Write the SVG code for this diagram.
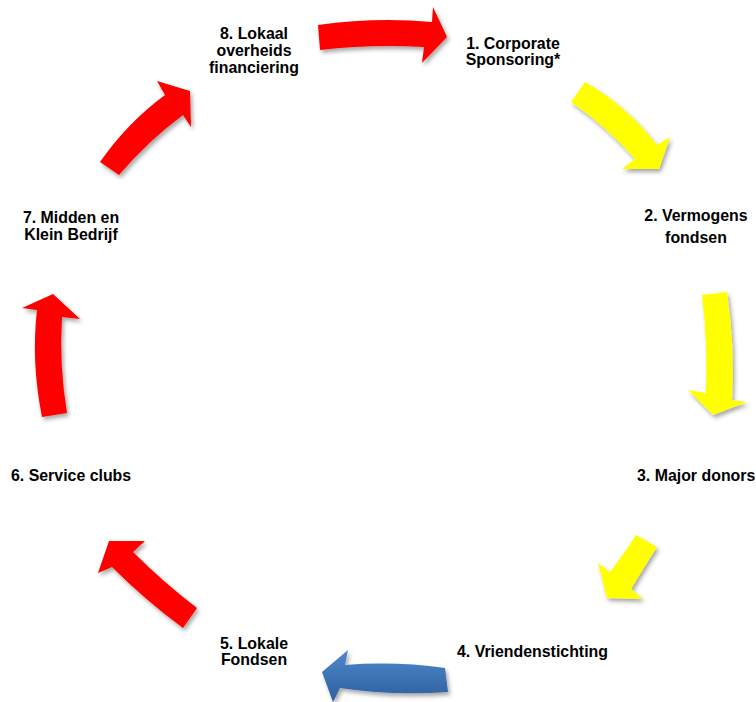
<svg xmlns="http://www.w3.org/2000/svg" width="756" height="702" viewBox="0 0 756 702">
  <defs>
    <filter id="shadow" x="-20%" y="-20%" width="140%" height="140%">
      <feDropShadow dx="2" dy="3" stdDeviation="2" flood-color="#000" flood-opacity="0.35"/>
    </filter>
    <linearGradient id="blueGrad" x1="0" y1="0" x2="0" y2="1">
      <stop offset="0" stop-color="#4D89CC"/>
      <stop offset="1" stop-color="#2E5E9E"/>
    </linearGradient>
  </defs>
  <style>
    .lbl { font-family: "Liberation Sans", Arial, sans-serif; font-weight: bold; font-size: 15.9px; fill: #000; }
    .red { fill: #FF0000; filter: url(#shadow); }
    .yellow { fill: #FFFF00; filter: url(#shadow); }
    .blue { fill: url(#blueGrad); filter: url(#shadow); }
  </style>
  <rect width="756" height="702" fill="#fff"/>

  <g id="connectors">
    <path class="red" d="M318,25 Q375,17 432,22 L433,7 L447,37 L422,63 L424,47 Q370,44 320,50 Z"/>
    <path class="yellow" d="M585,82 Q626,105 657,145 L670,137 L659,169 L622,169 L635,159 Q606,126 571,102 Z"/>
    <path class="yellow" d="M702,295 L727,292 Q735,346 732,400 L747,402 L713,415 L688,390 L706,393 Q708,344 702,295 Z"/>
    <path class="yellow" d="M636,535 L657,547 Q644,567 631,589 L643,599 L607,598 L598,563 L610,572 Q625,552 636,535 Z"/>
    <path class="blue" d="M445,668 Q395,661 345,665 L348,650 L322,672 L333,702 L340,688 Q393,696 448,692 Z"/>
    <path class="red" d="M197,608 Q163,582 133,552 L145,541 L109,541 L98,573 L112,567 Q145,600 183,628 Z"/>
    <path class="red" d="M42,417 L67,413 Q59,365 62,317 L80,319 L53,294 L22,308 L37,310 Q31,362 42,417 Z"/>
    <path class="red" d="M100,162 Q128,122 165,95 L157,81 L190,91 L191,127 L183,115 Q148,141 119,175 Z"/>
  </g>

  <g id="node1">
    <text class="lbl" x="513" y="49" text-anchor="middle">1. Corporate</text>
    <text class="lbl" x="513" y="65" text-anchor="middle">Sponsoring*</text>
  </g>
  <g id="node2">
    <text class="lbl" x="696" y="221" text-anchor="middle">2. Vermogens</text>
    <text class="lbl" x="696" y="243" text-anchor="middle">fondsen</text>
  </g>
  <g id="node3">
    <text class="lbl" x="637" y="481">3. Major donors</text>
  </g>
  <g id="node4">
    <text class="lbl" x="457" y="657">4. Vriendenstichting</text>
  </g>
  <g id="node5">
    <text class="lbl" x="254" y="649" text-anchor="middle">5. Lokale</text>
    <text class="lbl" x="254" y="665" text-anchor="middle">Fondsen</text>
  </g>
  <g id="node6">
    <text class="lbl" x="11" y="481">6. Service clubs</text>
  </g>
  <g id="node7">
    <text class="lbl" x="71" y="223" text-anchor="middle">7. Midden en</text>
    <text class="lbl" x="71" y="240" text-anchor="middle">Klein Bedrijf</text>
  </g>
  <g id="node8">
    <text class="lbl" x="254" y="39" text-anchor="middle">8. Lokaal</text>
    <text class="lbl" x="254" y="56" text-anchor="middle">overheids</text>
    <text class="lbl" x="254" y="73" text-anchor="middle">financiering</text>
  </g>
</svg>
